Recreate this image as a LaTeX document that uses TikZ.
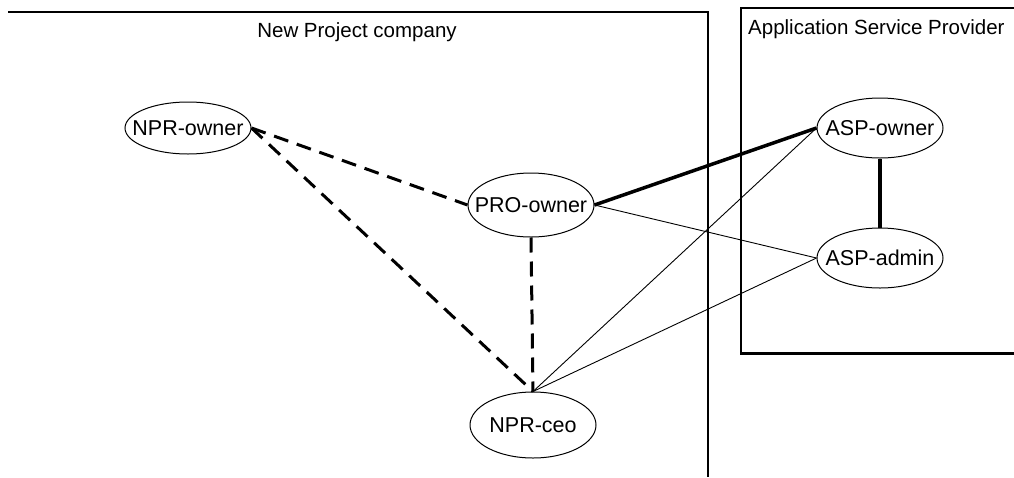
\documentclass[tikz,border=0pt]{standalone}
\usepackage{fontspec}
\setmainfont{Liberation Sans}
\usetikzlibrary{shapes.geometric}

\begin{document}
\begin{tikzpicture}[x=1pt, y=-1pt]
    \tikzstyle{role} = [ellipse, draw, line width=1pt, minimum width=126pt,
                        minimum height=60pt, inner xsep=-16pt, inner ysep=0pt,
                        font=\fontsize{21.5}{25}\selectfont]
    \tikzstyle{dashlink} = [line width=3pt, dash pattern=on 15pt off 9pt]
    \tikzstyle{thicklink} = [line width=3.5pt]
    \tikzstyle{thinlink} = [line width=0.9pt]
    \tikzstyle{title} = [font=\fontsize{20.5}{24}\selectfont, inner sep=0pt]

    \useasboundingbox (0,0) rectangle (1014,477);

    % company frames
    \draw[line width=1.5pt] (8,12) -- (708,12) -- (708,477);
    \draw[line width=1.2pt] (1014,8) -- (741,8) -- (741,353);
    \draw[line width=3pt] (740,353) -- (1014,353);

    \node[title]             (npc)  at (357,32) {New Project company};
    \node[title, anchor=west] (asp) at (748,29) {Application Service Provider};

    % roles
    \node[role, minimum height=52pt] (nprowner) at (188,128) {NPR-owner};
    \node[role, minimum height=64pt] (proowner) at (531,205) {PRO-owner};
    \node[role, minimum height=66pt] (nprceo)   at (533,425) {NPR-ceo};
    \node[role] (aspowner) at (880,128) {ASP-owner};
    \node[role] (aspadmin) at (880,258) {ASP-admin};

    % links
    \draw[dashlink] (nprowner.east) -- (proowner.west);
    \draw[dashlink] (nprowner.east) -- (nprceo.north);
    \draw[dashlink] (proowner.south) -- (nprceo.north);
    \draw[thicklink] (proowner.east) -- (aspowner.west);
    \draw[thinlink] (proowner.east) -- (aspadmin.west);
    \draw[thinlink] (nprceo.north) -- (aspowner.west);
    \draw[thinlink] (nprceo.north) -- (aspadmin.west);
    \draw[thicklink] (aspowner.south) -- (aspadmin.north);
\end{tikzpicture}
\end{document}
